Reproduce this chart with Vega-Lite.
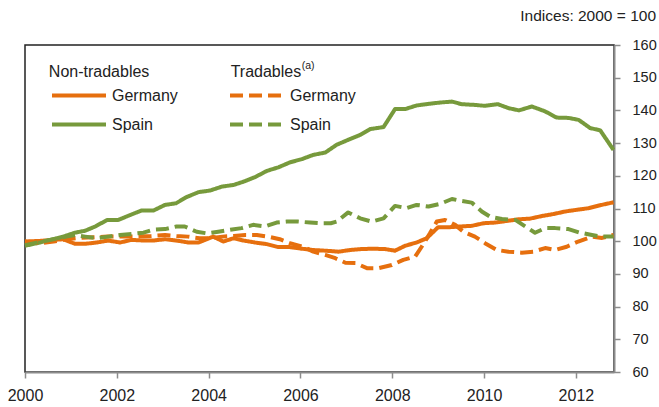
{
  "$schema": "https://vega.github.io/schema/vega-lite/v6.json",
  "width": 589,
  "height": 327,
  "autosize": {"type": "none"},
  "padding": {"left": 25, "top": 45, "right": 45, "bottom": 35},
  "background": "white",
  "config": {
    "font": "Liberation Sans",
    "view": {"stroke": "#222222", "strokeWidth": 1.5},
    "axis": {
      "domainColor": "#8c8c8c",
      "domainWidth": 2,
      "tickColor": "#8c8c8c",
      "tickWidth": 1.5,
      "tickSize": 6,
      "labelColor": "#222222",
      "grid": false,
      "labelFlush": false,
      "labelOverlap": false,
      "labelBound": false
    }
  },
  "title": {
    "text": "Indices: 2000 = 100",
    "anchor": "end",
    "frame": "group",
    "dx": 42,
    "offset": 1,
    "baseline": "alphabetic",
    "fontSize": 15.5,
    "fontWeight": "normal",
    "color": "#222222"
  },
  "datasets": {
    "series": [
      {"year": 2000.00, "value": 99.9, "series": "Non-tradables Germany"},
      {"year": 2000.33, "value": 100.1, "series": "Non-tradables Germany"},
      {"year": 2000.62, "value": 100.4, "series": "Non-tradables Germany"},
      {"year": 2000.83, "value": 100.6, "series": "Non-tradables Germany"},
      {"year": 2001.09, "value": 99.2, "series": "Non-tradables Germany"},
      {"year": 2001.31, "value": 99.2, "series": "Non-tradables Germany"},
      {"year": 2001.56, "value": 99.6, "series": "Non-tradables Germany"},
      {"year": 2001.81, "value": 100.2, "series": "Non-tradables Germany"},
      {"year": 2002.07, "value": 99.6, "series": "Non-tradables Germany"},
      {"year": 2002.32, "value": 100.4, "series": "Non-tradables Germany"},
      {"year": 2002.58, "value": 100.2, "series": "Non-tradables Germany"},
      {"year": 2002.79, "value": 100.2, "series": "Non-tradables Germany"},
      {"year": 2003.05, "value": 100.6, "series": "Non-tradables Germany"},
      {"year": 2003.30, "value": 100.2, "series": "Non-tradables Germany"},
      {"year": 2003.56, "value": 99.6, "series": "Non-tradables Germany"},
      {"year": 2003.78, "value": 99.6, "series": "Non-tradables Germany"},
      {"year": 2004.10, "value": 101.4, "series": "Non-tradables Germany"},
      {"year": 2004.32, "value": 99.9, "series": "Non-tradables Germany"},
      {"year": 2004.54, "value": 100.9, "series": "Non-tradables Germany"},
      {"year": 2004.76, "value": 100.2, "series": "Non-tradables Germany"},
      {"year": 2005.01, "value": 99.6, "series": "Non-tradables Germany"},
      {"year": 2005.27, "value": 99.1, "series": "Non-tradables Germany"},
      {"year": 2005.52, "value": 98.2, "series": "Non-tradables Germany"},
      {"year": 2005.77, "value": 98.2, "series": "Non-tradables Germany"},
      {"year": 2006.03, "value": 97.7, "series": "Non-tradables Germany"},
      {"year": 2006.28, "value": 97.3, "series": "Non-tradables Germany"},
      {"year": 2006.54, "value": 97.1, "series": "Non-tradables Germany"},
      {"year": 2006.83, "value": 96.8, "series": "Non-tradables Germany"},
      {"year": 2007.08, "value": 97.3, "series": "Non-tradables Germany"},
      {"year": 2007.33, "value": 97.6, "series": "Non-tradables Germany"},
      {"year": 2007.59, "value": 97.7, "series": "Non-tradables Germany"},
      {"year": 2007.84, "value": 97.6, "series": "Non-tradables Germany"},
      {"year": 2008.06, "value": 97.1, "series": "Non-tradables Germany"},
      {"year": 2008.28, "value": 98.6, "series": "Non-tradables Germany"},
      {"year": 2008.53, "value": 99.6, "series": "Non-tradables Germany"},
      {"year": 2008.75, "value": 100.9, "series": "Non-tradables Germany"},
      {"year": 2009.00, "value": 104.3, "series": "Non-tradables Germany"},
      {"year": 2009.26, "value": 104.3, "series": "Non-tradables Germany"},
      {"year": 2009.48, "value": 104.5, "series": "Non-tradables Germany"},
      {"year": 2009.73, "value": 104.7, "series": "Non-tradables Germany"},
      {"year": 2009.99, "value": 105.5, "series": "Non-tradables Germany"},
      {"year": 2010.24, "value": 105.7, "series": "Non-tradables Germany"},
      {"year": 2010.50, "value": 106.2, "series": "Non-tradables Germany"},
      {"year": 2010.75, "value": 106.7, "series": "Non-tradables Germany"},
      {"year": 2011.00, "value": 106.9, "series": "Non-tradables Germany"},
      {"year": 2011.26, "value": 107.7, "series": "Non-tradables Germany"},
      {"year": 2011.51, "value": 108.3, "series": "Non-tradables Germany"},
      {"year": 2011.77, "value": 109.1, "series": "Non-tradables Germany"},
      {"year": 2012.02, "value": 109.6, "series": "Non-tradables Germany"},
      {"year": 2012.28, "value": 110.1, "series": "Non-tradables Germany"},
      {"year": 2012.53, "value": 111.0, "series": "Non-tradables Germany"},
      {"year": 2012.82, "value": 111.9, "series": "Non-tradables Germany"},

      {"year": 2000.00, "value": 98.6, "series": "Non-tradables Spain"},
      {"year": 2000.33, "value": 99.6, "series": "Non-tradables Spain"},
      {"year": 2000.62, "value": 100.6, "series": "Non-tradables Spain"},
      {"year": 2000.83, "value": 101.4, "series": "Non-tradables Spain"},
      {"year": 2001.09, "value": 102.6, "series": "Non-tradables Spain"},
      {"year": 2001.31, "value": 103.2, "series": "Non-tradables Spain"},
      {"year": 2001.53, "value": 104.5, "series": "Non-tradables Spain"},
      {"year": 2001.79, "value": 106.5, "series": "Non-tradables Spain"},
      {"year": 2002.03, "value": 106.5, "series": "Non-tradables Spain"},
      {"year": 2002.29, "value": 108.0, "series": "Non-tradables Spain"},
      {"year": 2002.54, "value": 109.4, "series": "Non-tradables Spain"},
      {"year": 2002.80, "value": 109.4, "series": "Non-tradables Spain"},
      {"year": 2003.05, "value": 111.1, "series": "Non-tradables Spain"},
      {"year": 2003.29, "value": 111.6, "series": "Non-tradables Spain"},
      {"year": 2003.52, "value": 113.5, "series": "Non-tradables Spain"},
      {"year": 2003.78, "value": 115.0, "series": "Non-tradables Spain"},
      {"year": 2004.03, "value": 115.5, "series": "Non-tradables Spain"},
      {"year": 2004.29, "value": 116.7, "series": "Non-tradables Spain"},
      {"year": 2004.54, "value": 117.2, "series": "Non-tradables Spain"},
      {"year": 2004.76, "value": 118.2, "series": "Non-tradables Spain"},
      {"year": 2005.01, "value": 119.6, "series": "Non-tradables Spain"},
      {"year": 2005.27, "value": 121.5, "series": "Non-tradables Spain"},
      {"year": 2005.52, "value": 122.6, "series": "Non-tradables Spain"},
      {"year": 2005.77, "value": 124.1, "series": "Non-tradables Spain"},
      {"year": 2006.03, "value": 125.1, "series": "Non-tradables Spain"},
      {"year": 2006.28, "value": 126.4, "series": "Non-tradables Spain"},
      {"year": 2006.54, "value": 127.1, "series": "Non-tradables Spain"},
      {"year": 2006.79, "value": 129.5, "series": "Non-tradables Spain"},
      {"year": 2007.04, "value": 131.0, "series": "Non-tradables Spain"},
      {"year": 2007.30, "value": 132.5, "series": "Non-tradables Spain"},
      {"year": 2007.52, "value": 134.3, "series": "Non-tradables Spain"},
      {"year": 2007.81, "value": 134.9, "series": "Non-tradables Spain"},
      {"year": 2008.06, "value": 140.4, "series": "Non-tradables Spain"},
      {"year": 2008.28, "value": 140.4, "series": "Non-tradables Spain"},
      {"year": 2008.53, "value": 141.5, "series": "Non-tradables Spain"},
      {"year": 2008.79, "value": 142.0, "series": "Non-tradables Spain"},
      {"year": 2009.04, "value": 142.4, "series": "Non-tradables Spain"},
      {"year": 2009.30, "value": 142.7, "series": "Non-tradables Spain"},
      {"year": 2009.51, "value": 141.9, "series": "Non-tradables Spain"},
      {"year": 2009.77, "value": 141.7, "series": "Non-tradables Spain"},
      {"year": 2010.02, "value": 141.4, "series": "Non-tradables Spain"},
      {"year": 2010.30, "value": 141.9, "series": "Non-tradables Spain"},
      {"year": 2010.53, "value": 140.7, "series": "Non-tradables Spain"},
      {"year": 2010.76, "value": 140.0, "series": "Non-tradables Spain"},
      {"year": 2011.04, "value": 141.2, "series": "Non-tradables Spain"},
      {"year": 2011.33, "value": 139.7, "series": "Non-tradables Spain"},
      {"year": 2011.58, "value": 137.8, "series": "Non-tradables Spain"},
      {"year": 2011.84, "value": 137.7, "series": "Non-tradables Spain"},
      {"year": 2012.06, "value": 137.1, "series": "Non-tradables Spain"},
      {"year": 2012.31, "value": 134.6, "series": "Non-tradables Spain"},
      {"year": 2012.53, "value": 133.9, "series": "Non-tradables Spain"},
      {"year": 2012.82, "value": 127.9, "series": "Non-tradables Spain"},

      {"year": 2000.00, "value": 99.9, "series": "Tradables Germany"},
      {"year": 2000.33, "value": 99.4, "series": "Tradables Germany"},
      {"year": 2000.62, "value": 99.9, "series": "Tradables Germany"},
      {"year": 2000.90, "value": 100.6, "series": "Tradables Germany"},
      {"year": 2001.20, "value": 101.0, "series": "Tradables Germany"},
      {"year": 2001.50, "value": 101.2, "series": "Tradables Germany"},
      {"year": 2001.80, "value": 101.4, "series": "Tradables Germany"},
      {"year": 2002.10, "value": 101.4, "series": "Tradables Germany"},
      {"year": 2002.40, "value": 101.4, "series": "Tradables Germany"},
      {"year": 2002.75, "value": 101.6, "series": "Tradables Germany"},
      {"year": 2003.05, "value": 101.9, "series": "Tradables Germany"},
      {"year": 2003.30, "value": 101.6, "series": "Tradables Germany"},
      {"year": 2003.55, "value": 101.4, "series": "Tradables Germany"},
      {"year": 2003.80, "value": 100.9, "series": "Tradables Germany"},
      {"year": 2004.05, "value": 100.9, "series": "Tradables Germany"},
      {"year": 2004.30, "value": 101.4, "series": "Tradables Germany"},
      {"year": 2004.55, "value": 101.6, "series": "Tradables Germany"},
      {"year": 2004.80, "value": 101.9, "series": "Tradables Germany"},
      {"year": 2005.05, "value": 101.9, "series": "Tradables Germany"},
      {"year": 2005.30, "value": 101.4, "series": "Tradables Germany"},
      {"year": 2005.55, "value": 100.6, "series": "Tradables Germany"},
      {"year": 2005.77, "value": 99.4, "series": "Tradables Germany"},
      {"year": 2006.06, "value": 98.3, "series": "Tradables Germany"},
      {"year": 2006.28, "value": 96.8, "series": "Tradables Germany"},
      {"year": 2006.54, "value": 95.8, "series": "Tradables Germany"},
      {"year": 2006.76, "value": 94.8, "series": "Tradables Germany"},
      {"year": 2006.98, "value": 93.4, "series": "Tradables Germany"},
      {"year": 2007.20, "value": 93.3, "series": "Tradables Germany"},
      {"year": 2007.46, "value": 91.7, "series": "Tradables Germany"},
      {"year": 2007.68, "value": 91.7, "series": "Tradables Germany"},
      {"year": 2007.99, "value": 92.7, "series": "Tradables Germany"},
      {"year": 2008.24, "value": 94.3, "series": "Tradables Germany"},
      {"year": 2008.50, "value": 95.3, "series": "Tradables Germany"},
      {"year": 2008.64, "value": 98.3, "series": "Tradables Germany"},
      {"year": 2008.82, "value": 102.4, "series": "Tradables Germany"},
      {"year": 2008.97, "value": 106.0, "series": "Tradables Germany"},
      {"year": 2009.15, "value": 106.5, "series": "Tradables Germany"},
      {"year": 2009.37, "value": 105.0, "series": "Tradables Germany"},
      {"year": 2009.55, "value": 102.9, "series": "Tradables Germany"},
      {"year": 2009.80, "value": 101.4, "series": "Tradables Germany"},
      {"year": 2010.02, "value": 99.4, "series": "Tradables Germany"},
      {"year": 2010.28, "value": 97.3, "series": "Tradables Germany"},
      {"year": 2010.53, "value": 96.8, "series": "Tradables Germany"},
      {"year": 2010.82, "value": 96.5, "series": "Tradables Germany"},
      {"year": 2011.07, "value": 96.8, "series": "Tradables Germany"},
      {"year": 2011.33, "value": 97.9, "series": "Tradables Germany"},
      {"year": 2011.55, "value": 97.3, "series": "Tradables Germany"},
      {"year": 2011.80, "value": 98.3, "series": "Tradables Germany"},
      {"year": 2012.05, "value": 99.9, "series": "Tradables Germany"},
      {"year": 2012.35, "value": 101.4, "series": "Tradables Germany"},
      {"year": 2012.57, "value": 101.0, "series": "Tradables Germany"},
      {"year": 2012.82, "value": 101.9, "series": "Tradables Germany"},

      {"year": 2000.00, "value": 98.8, "series": "Tradables Spain"},
      {"year": 2000.33, "value": 99.8, "series": "Tradables Spain"},
      {"year": 2000.62, "value": 100.6, "series": "Tradables Spain"},
      {"year": 2000.90, "value": 101.4, "series": "Tradables Spain"},
      {"year": 2001.09, "value": 101.9, "series": "Tradables Spain"},
      {"year": 2001.31, "value": 101.4, "series": "Tradables Spain"},
      {"year": 2001.56, "value": 100.9, "series": "Tradables Spain"},
      {"year": 2001.81, "value": 101.4, "series": "Tradables Spain"},
      {"year": 2002.07, "value": 101.9, "series": "Tradables Spain"},
      {"year": 2002.32, "value": 102.2, "series": "Tradables Spain"},
      {"year": 2002.58, "value": 102.6, "series": "Tradables Spain"},
      {"year": 2002.79, "value": 103.5, "series": "Tradables Spain"},
      {"year": 2003.05, "value": 103.7, "series": "Tradables Spain"},
      {"year": 2003.30, "value": 104.5, "series": "Tradables Spain"},
      {"year": 2003.48, "value": 104.5, "series": "Tradables Spain"},
      {"year": 2003.74, "value": 102.9, "series": "Tradables Spain"},
      {"year": 2003.96, "value": 102.4, "series": "Tradables Spain"},
      {"year": 2004.21, "value": 102.9, "series": "Tradables Spain"},
      {"year": 2004.47, "value": 103.5, "series": "Tradables Spain"},
      {"year": 2004.72, "value": 104.0, "series": "Tradables Spain"},
      {"year": 2004.97, "value": 105.0, "series": "Tradables Spain"},
      {"year": 2005.23, "value": 104.5, "series": "Tradables Spain"},
      {"year": 2005.48, "value": 105.7, "series": "Tradables Spain"},
      {"year": 2005.70, "value": 106.0, "series": "Tradables Spain"},
      {"year": 2005.95, "value": 106.0, "series": "Tradables Spain"},
      {"year": 2006.21, "value": 105.7, "series": "Tradables Spain"},
      {"year": 2006.43, "value": 105.5, "series": "Tradables Spain"},
      {"year": 2006.66, "value": 105.5, "series": "Tradables Spain"},
      {"year": 2006.79, "value": 106.0, "series": "Tradables Spain"},
      {"year": 2007.04, "value": 108.8, "series": "Tradables Spain"},
      {"year": 2007.30, "value": 107.0, "series": "Tradables Spain"},
      {"year": 2007.55, "value": 106.0, "series": "Tradables Spain"},
      {"year": 2007.81, "value": 107.0, "series": "Tradables Spain"},
      {"year": 2008.06, "value": 110.8, "series": "Tradables Spain"},
      {"year": 2008.31, "value": 110.1, "series": "Tradables Spain"},
      {"year": 2008.53, "value": 111.1, "series": "Tradables Spain"},
      {"year": 2008.79, "value": 110.6, "series": "Tradables Spain"},
      {"year": 2009.04, "value": 111.4, "series": "Tradables Spain"},
      {"year": 2009.30, "value": 112.9, "series": "Tradables Spain"},
      {"year": 2009.51, "value": 112.3, "series": "Tradables Spain"},
      {"year": 2009.73, "value": 111.8, "series": "Tradables Spain"},
      {"year": 2009.95, "value": 109.1, "series": "Tradables Spain"},
      {"year": 2010.13, "value": 107.5, "series": "Tradables Spain"},
      {"year": 2010.39, "value": 106.8, "series": "Tradables Spain"},
      {"year": 2010.68, "value": 106.5, "series": "Tradables Spain"},
      {"year": 2010.90, "value": 104.5, "series": "Tradables Spain"},
      {"year": 2011.11, "value": 102.6, "series": "Tradables Spain"},
      {"year": 2011.33, "value": 104.0, "series": "Tradables Spain"},
      {"year": 2011.55, "value": 104.0, "series": "Tradables Spain"},
      {"year": 2011.84, "value": 103.7, "series": "Tradables Spain"},
      {"year": 2012.09, "value": 102.6, "series": "Tradables Spain"},
      {"year": 2012.35, "value": 101.9, "series": "Tradables Spain"},
      {"year": 2012.56, "value": 101.4, "series": "Tradables Spain"},
      {"year": 2012.82, "value": 101.4, "series": "Tradables Spain"}
    ],
    "headers": [
      {"year": 2000.52, "value": 151.6, "label": "Non-tradables"},
      {"year": 2004.48, "value": 151.6, "label": "Tradables"}
    ],
    "notes": [
      {"year": 2004.48, "value": 151.6, "label": "(a)"}
    ]
  },
  "encoding": {
    "x": {
      "field": "year", "type": "quantitative",
      "scale": {"domain": [2000, 2012.83], "nice": false, "zero": false},
      "axis": {"title": null, "values": [2000, 2002, 2004, 2006, 2008, 2010, 2012], "format": "d", "labelFontSize": 16, "labelPadding": 9, "labelOverlap": false, "labelFlush": false}
    },
    "y": {
      "field": "value", "type": "quantitative",
      "scale": {"domain": [60, 160], "nice": false, "zero": false},
      "axis": {"title": null, "orient": "right", "values": [60, 70, 80, 90, 100, 110, 120, 130, 140, 150, 160], "labelFontSize": 14.5, "labelPadding": 12, "labelOverlap": false, "labelFlush": false}
    }
  },
  "layer": [
    {
      "data": {"name": "series"},
      "mark": {"type": "line", "strokeWidth": 4, "strokeCap": "butt", "strokeJoin": "round"},
      "encoding": {
        "color": {
          "field": "series", "type": "nominal",
          "scale": {
            "domain": ["Non-tradables Germany", "Non-tradables Spain", "Tradables Germany", "Tradables Spain"],
            "range": ["#E66F0E", "#779A3C", "#E66F0E", "#779A3C"]
          },
          "legend": {
            "orient": "none", "legendX": 25, "legendY": 36, "columns": 2, "title": null,
            "symbolType": "stroke", "symbolStrokeWidth": 4, "symbolSize": 2916,
            "labelFontSize": 16, "labelColor": "#222222", "labelOffset": 4,
            "columnPadding": 50, "rowPadding": 0, "clipHeight": 29, "padding": 0,
            "labelExpr": "split(datum.label, ' ')[1]"
          }
        },
        "strokeDash": {
          "field": "series", "type": "nominal",
          "scale": {
            "domain": ["Non-tradables Germany", "Non-tradables Spain", "Tradables Germany", "Tradables Spain"],
            "range": [[1, 0], [1, 0], [13, 6], [13, 6]]
          },
          "legend": {
            "orient": "none", "legendX": 25, "legendY": 36, "columns": 2, "title": null,
            "symbolType": "stroke", "symbolStrokeWidth": 4, "symbolSize": 2916,
            "labelFontSize": 16, "labelColor": "#222222", "labelOffset": 4,
            "columnPadding": 50, "rowPadding": 0, "clipHeight": 29, "padding": 0,
            "labelExpr": "split(datum.label, ' ')[1]"
          }
        }
      }
    },
    {
      "data": {"name": "headers"},
      "mark": {"type": "text", "align": "left", "baseline": "middle", "fontSize": 16, "color": "#222222"},
      "encoding": {
        "text": {"field": "label"}
      }
    },
    {
      "data": {"name": "notes"},
      "mark": {"type": "text", "align": "left", "baseline": "middle", "fontSize": 10.5, "dx": 71, "dy": -6, "color": "#222222"},
      "encoding": {
        "text": {"field": "label"}
      }
    }
  ]
}
